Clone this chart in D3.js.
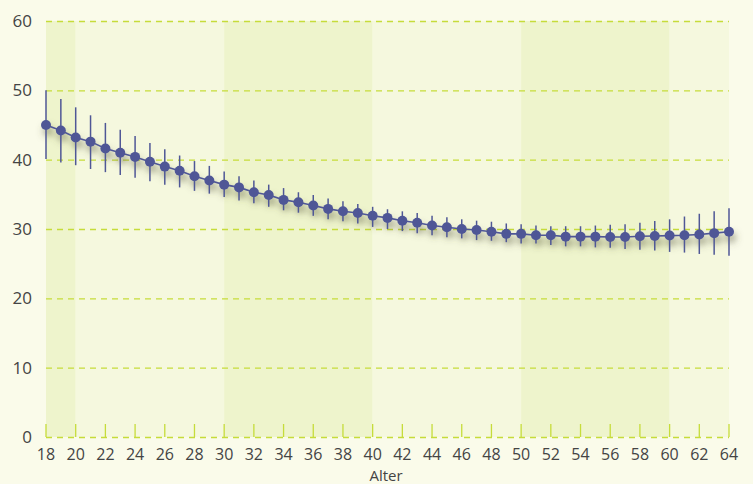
<!DOCTYPE html>
<html><head><meta charset="utf-8">
<script src="https://cdn.jsdelivr.net/npm/d3@7"></script>
<style>
html,body{margin:0;padding:0;background:#fafbea;}
svg{display:block;font-family:"Open Sans","Noto Sans",sans-serif;}
</style></head>
<body><svg id="c" width="753" height="484"></svg>
<script>
const ages = d3.range(18, 65);
const means = [45.0,44.2,43.2,42.6,41.6,41.0,40.4,39.7,39.0,38.4,37.6,37.0,36.4,36.0,35.3,34.9,34.2,33.85,33.4,32.9,32.55,32.3,31.9,31.6,31.2,30.9,30.5,30.25,30.0,29.85,29.6,29.3,29.3,29.1,29.1,28.9,28.9,28.9,28.85,28.85,28.95,29.0,29.05,29.1,29.2,29.4,29.6];
const upper = [50.0,48.75,47.55,46.4,45.3,44.3,43.4,42.4,41.5,40.6,39.8,39.1,38.3,37.6,37.0,36.4,35.9,35.3,34.9,34.4,34.0,33.6,33.2,32.85,32.55,32.3,31.9,31.7,31.4,31.2,31.05,30.8,30.7,30.5,30.4,30.4,30.4,30.5,30.6,30.7,30.9,31.15,31.4,31.8,32.2,32.55,33.0];
const lower = [40.1,39.6,39.2,38.65,38.2,37.8,37.4,36.9,36.4,36.0,35.5,35.1,34.6,34.1,33.7,33.2,32.7,32.35,31.9,31.4,31.1,30.8,30.3,30.0,29.7,29.4,29.1,28.8,28.65,28.4,28.3,28.1,27.9,27.9,27.7,27.5,27.5,27.35,27.3,27.1,27.0,26.9,26.7,26.6,26.4,26.3,26.15];
const bands = [[18,20,"dark"],[20,30,"light"],[30,40,"dark"],[40,50,"light"],[50,60,"dark"],[60,64,"light"]];
const yTicks = [0,10,20,30,40,50,60];
const xTicks = d3.range(18, 65, 2);
const xLabel = "Alter";

const svg = d3.select("#c");
const x = d3.scaleLinear().domain([18,64]).range([46,729]);
const y = d3.scaleLinear().domain([0,60]).range([437,21]);

const defs = svg.append("defs");
const f = defs.append("filter").attr("id","sh").attr("x","-10%").attr("y","-30%").attr("width","120%").attr("height","200%");
f.append("feDropShadow").attr("dx",2).attr("dy",6).attr("stdDeviation",3.5).attr("flood-color","#55553a").attr("flood-opacity",0.5);

svg.append("g").selectAll("rect").data(bands).join("rect")
  .attr("x",d=>x(d[0])).attr("width",d=>x(d[1])-x(d[0]))
  .attr("y",y(60)).attr("height",y(0)-y(60))
  .attr("fill",d=>d[2]==="dark"?"#eef4cc":"#f5f8de");

// grid
svg.append("g").selectAll("line").data(yTicks).join("line")
  .attr("x1",x(18)).attr("x2",x(64)).attr("y1",d=>y(d)+0.5).attr("y2",d=>y(d)+0.5)
  .attr("stroke","#c6dc3a").attr("stroke-width",1.3).attr("stroke-dasharray","6,5");

// x ticks
svg.append("g").selectAll("line").data(xTicks).join("line")
  .attr("x1",d=>x(d)).attr("x2",d=>x(d)).attr("y1",y(0)-13).attr("y2",y(0))
  .attr("stroke","#c6dc3a").attr("stroke-width",1.3);

// y labels
svg.append("g").selectAll("text").data(yTicks).join("text")
  .attr("x",32).attr("y",d=>y(d)).attr("dy","0.36em").attr("text-anchor","end")
  .attr("font-size",17).attr("fill","#444").text(d=>d);

// x labels
svg.append("g").selectAll("text").data(xTicks).join("text")
  .attr("x",d=>x(d)).attr("y",460).attr("text-anchor","middle")
  .attr("font-size",16).attr("fill","#444").text(d=>d);

svg.append("text").attr("x",386).attr("y",481).attr("text-anchor","middle")
  .attr("font-size",15).attr("fill","#444").text(xLabel);

const data = ages.map((a,i)=>({a, m:means[i], u:upper[i], l:lower[i]}));
const col = "#4f5796";
const g = svg.append("g").attr("filter","url(#sh)");
g.append("path").datum(data)
  .attr("d", d3.line().x(d=>x(d.a)).y(d=>y(d.m)))
  .attr("fill","none").attr("stroke",col).attr("stroke-width",1.6);
g.selectAll("circle").data(data).join("circle")
  .attr("cx",d=>x(d.a)).attr("cy",d=>y(d.m)).attr("r",5).attr("fill",col);
svg.append("g").selectAll("line").data(data).join("line")
  .attr("x1",d=>x(d.a)).attr("x2",d=>x(d.a)).attr("y1",d=>y(d.u)).attr("y2",d=>y(d.l))
  .attr("stroke",col).attr("stroke-width",1.5);
</script></body></html>
